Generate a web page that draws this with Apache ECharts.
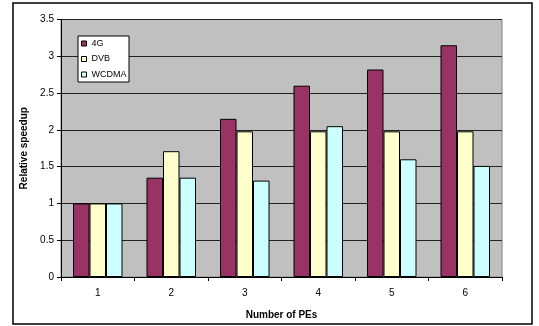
<!DOCTYPE html>
<html><head><meta charset="utf-8">
<script src="https://cdn.jsdelivr.net/npm/echarts@6/dist/echarts.min.js"></script>
<style>html,body{margin:0;padding:0;background:#fff}#c{width:539px;height:326px}</style>
</head><body><div id="c"></div>
<script>
const categories = ['1','2','3','4','5','6'];
const series4G = [1, 1.35, 2.15, 2.6, 2.82, 3.15];
const seriesDVB = [1, 1.71, 1.98, 1.98, 1.98, 1.98];
const seriesWCDMA = [1, 1.35, 1.31, 2.05, 1.6, 1.51];
const seriesNames = ['4G', 'DVB', 'WCDMA'];
const colors = ['#993366', '#FFFFCC', '#CCFFFF'];

const chart = echarts.init(document.getElementById('c'), null, {renderer: 'canvas'});
const font = 'Arial, "Liberation Sans", sans-serif';
function bar(name, data, color) {
  return {
    name: name, type: 'bar', data: data, barWidth: 16.5, barGap: '0%',
    itemStyle: {color: color, borderColor: '#000', borderWidth: 1},
    emphasis: {disabled: true}
  };
}
chart.setOption({
  animation: false,
  textStyle: {fontFamily: font},
  grid: {left: 61, right: 37, top: 19.5, bottom: 49, show: true,
         backgroundColor: '#C0C0C0', borderColor: '#808080', borderWidth: 1},
  graphic: [
    {type: 'rect', shape: {x: 13, y: 3, width: 519, height: 321},
     style: {fill: 'none', stroke: '#000', lineWidth: 1.5}, z: 100},
    {type: 'rect', shape: {x: 78, y: 36, width: 51, height: 46},
     style: {fill: '#fff', stroke: '#000', lineWidth: 1}, z: 5}
  ],
  legend: {
    orient: 'vertical', left: 81, top: 39, padding: 0, itemWidth: 5, itemHeight: 5,
    itemGap: 6.5, z: 10,
    data: seriesNames.map(n => ({name: n, icon: 'rect'})),
    itemStyle: {borderColor: '#000', borderWidth: 1},
    textStyle: {fontSize: 9, fontFamily: font, color: '#000'},
    selectedMode: false
  },
  xAxis: {
    type: 'category', data: categories,
    name: 'Number of PEs', nameLocation: 'middle', nameGap: 33,
    nameTextStyle: {fontSize: 10, fontWeight: 'bold', color: '#000', fontFamily: font},
    axisLine: {lineStyle: {color: '#000', width: 1}},
    axisTick: {show: true, length: 4, lineStyle: {color: '#000'}},
    axisLabel: {fontSize: 10, color: '#000', margin: 11, fontFamily: font},
    splitLine: {show: false}
  },
  yAxis: {
    type: 'value', min: 0, max: 3.5, interval: 0.5,
    name: 'Relative speedup', nameLocation: 'middle', nameGap: 28,
    nameTextStyle: {fontSize: 10, fontWeight: 'bold', color: '#000', fontFamily: font},
    axisLine: {show: true, lineStyle: {color: '#000', width: 1}},
    axisTick: {show: true, length: 4, lineStyle: {color: '#000'}},
    axisLabel: {fontSize: 10, color: '#000', margin: 7, fontFamily: font},
    splitLine: {show: true, lineStyle: {color: '#222', width: 1}}
  },
  series: [
    bar(seriesNames[0], series4G, colors[0]),
    bar(seriesNames[1], seriesDVB, colors[1]),
    bar(seriesNames[2], seriesWCDMA, colors[2])
  ]
});
</script></body></html>
